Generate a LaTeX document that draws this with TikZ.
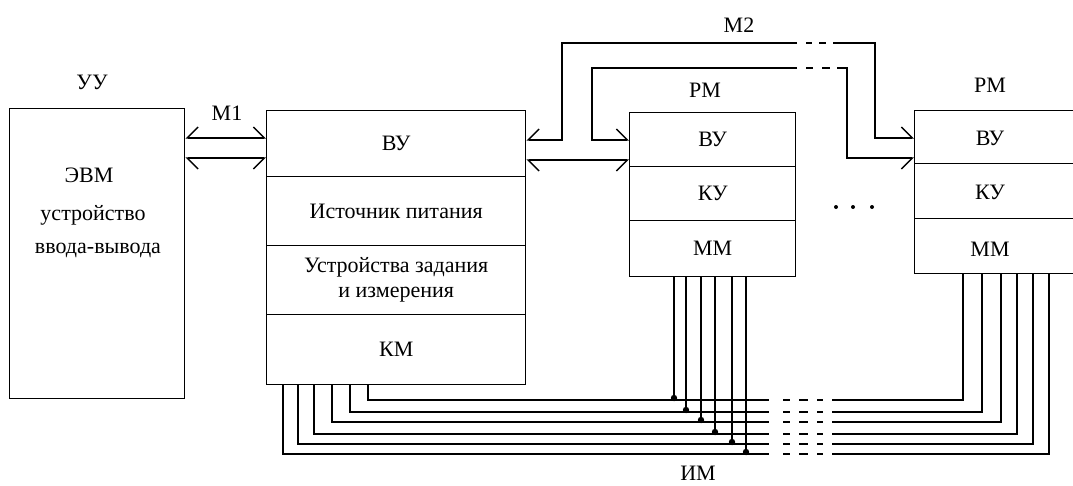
\documentclass[tikz,border=0pt]{standalone}
\usepackage{fontspec}
\setmainfont{Liberation Serif}
\usetikzlibrary{arrows.meta}
\newcommand\fs{\fontsize{22}{25}\selectfont}
\tikzset{
  ln/.style={line width=1.4pt},
  sec/.style={draw, line width=1.4pt, inner sep=0pt, font=\fs, align=center, anchor=north west},
  lbl/.style={inner sep=0pt, font=\fs, align=center},
  hN/.tip={Straight Barb[harpoon,length=11pt,width=22pt]},
  hS/.tip={Straight Barb[harpoon,swap,length=11pt,width=22pt]},
  gapA/.style={ln, dash pattern=on 0pt off 9pt on 6pt off 7pt on 7pt off 7pt},
  gapB/.style={ln, dash pattern=on 0pt off 9pt on 7pt off 9pt on 8pt off 7pt},
  gapC/.style={ln, dash pattern=on 0pt off 14pt on 7pt off 9pt on 9pt off 9pt on 6pt off 9pt},
  jdot/.style={fill=black},
}
\begin{document}
\begin{tikzpicture}[x=1pt,y=-1pt]
\useasboundingbox (0,0) rectangle (1073,485);
% --- UU box
\node[lbl] (uu) at (92,82) {УУ};
\node[sec, minimum width=175, minimum height=290] (evm) at (9,108) {};
\node[lbl] (evm1) at (89,175) {ЭВМ};
\node[lbl] (evm2) at (93,215) {устройство};
\node[lbl] (evm3) at (98,250) {ввода-вывода};
% --- main box
\node[sec, minimum width=259, minimum height=66] (vu0) at (266,110) {ВУ};
\node[sec, minimum width=259, minimum height=69] (ip) at (266,176) {Источник питания};
\node[sec, minimum width=259, minimum height=69] (uz) at (266,245) {Устройства задания\\и измерения};
\node[sec, minimum width=259, minimum height=70] (km) at (266,314) {КМ};
% --- RM1
\node[lbl] (rm1) at (705,90) {РМ};
\node[sec, minimum width=166, minimum height=54] (vu1) at (629,112) {ВУ};
\node[sec, minimum width=166, minimum height=54] (ku1) at (629,166) {КУ};
\node[sec, minimum width=166, minimum height=56] (mm1) at (629,220) {ММ};
% --- RM2
\node[lbl] (rm2) at (990,85) {РМ};
\node[sec, minimum width=170, minimum height=53] (vu2) at (914,110) {};
\node[sec, minimum width=170, minimum height=55] (ku2) at (914,163) {};
\node[sec, minimum width=170, minimum height=55] (mm2) at (914,218) {};
\node[lbl] (vu2t) at (990,138) {ВУ};
\node[lbl] (ku2t) at (990,192) {КУ};
\node[lbl] (mm2t) at (990,249) {ММ};
% --- labels
\node[lbl] (m1) at (227,113) {М1};
\node[lbl] (m2) at (739,25) {М2};
\node[lbl] (im) at (698,473) {ИМ};
\fill (836,207) circle (2pt) (853,207) circle (2pt) (872,207) circle (2pt);
% --- M1 connectors
\coordinate (ya) at (0,138);
\coordinate (yb) at (0,158);
\draw[ln, {hS}-{hN}] (evm.east |- ya) -- (vu0.west |- ya);
\draw[ln, {hN}-{hS}] (evm.east |- yb) -- (vu0.west |- yb);
% --- M2 connectors
\coordinate (y140) at (0,140);
\coordinate (y160) at (0,160);
\coordinate (o1) at (562,43);
\coordinate (o2) at (797,43);
\coordinate (o3) at (833,43);
\coordinate (o4) at (875,43);
\coordinate (i1) at (592,68);
\coordinate (i2) at (797,68);
\coordinate (i3) at (837,68);
\coordinate (i4) at (847,68);
\coordinate (y138) at (0,138);
\draw[ln, {hN}-{hS}] (vu0.east |- y160) -- (vu1.west |- y160);
\draw[ln, -{hS}] (o2) -- (o1) |- (vu0.east |- y140);
\draw[gapA] (o2) -- (o3);
\draw[ln, -{hN}] (o3) -- (o4) |- (vu2.west |- y138);
\draw[ln, -{hN}] (i2) -- (i1) |- (vu1.west |- y140);
\draw[gapB] (i2) -- (i3);
\draw[ln, -{hS}] (i3) -- (i4) |- (vu2.west |- yb);
% --- IM bus
\foreach \i/\xa/\xb/\xc/\yy in {1/368/674/963/400, 2/350/686/982/412, 3/332/701/1001/422, 4/314/715/1017/434, 5/298/732/1033/444, 6/283/746/1049/454}{
  \coordinate (ka\i) at (\xa,384);
  \coordinate (la\i) at (769,\yy);
  \coordinate (lb\i) at (832,\yy);
  \coordinate (ra\i) at (\xc,273);
  \coordinate (pa\i) at (\xb,276);
  \coordinate (pb\i) at (\xb,\yy);
  \draw[ln] (ka\i) |- (la\i);
  \draw[gapC] (la\i) -- (lb\i);
  \draw[ln] (lb\i) -| (ra\i);
  \draw[ln] (pa\i) -- (pb\i);
  \fill[jdot] ([yshift=2pt]pb\i) circle (3.2pt);
}
\end{tikzpicture}
\end{document}
